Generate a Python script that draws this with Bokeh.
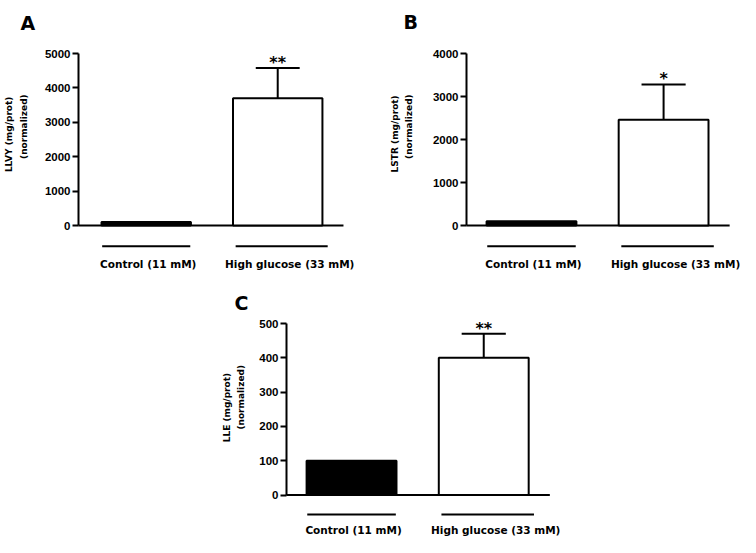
from math import pi
from bokeh.plotting import figure
from bokeh.models import ColumnDataSource, Range1d, FixedTicker, Spacer
from bokeh.layouts import column, row
from bokeh.core.properties import value
from bokeh.embed import file_html
from bokeh.resources import INLINE

# ---------------- data ----------------
categories = ["Control (11 mM)", "High glucose (33 mM)"]
bar_colors = ["black", "white"]

a_means = [100, 3700]
a_errs = [0, 875]
a_sig = ["", "**"]
a_ticks = [0, 1000, 2000, 3000, 4000, 5000]
a_ylabel = ["LLVY (mg/prot)", "(normalized)"]

b_means = [100, 2460]
b_errs = [0, 820]
b_sig = ["", "*"]
b_ticks = [0, 1000, 2000, 3000, 4000]
b_ylabel = ["LSTR (mg/prot)", "(normalized)"]

c_means = [100, 400]
c_errs = [0, 70]
c_sig = ["", "**"]
c_ticks = [0, 100, 200, 300, 400, 500]
c_ylabel = ["LLE (mg/prot)", "(normalized)"]

# ---------------- style ----------------
FONT = "DejaVu Sans"
TICK_FONT = "Liberation Sans"
BAR_W = 0.68
CAP_HALF = 0.167
UL_LEFT = [-0.335, -0.32]
UL_RIGHT = [0.335, 0.38]
LABEL_DX = [2, 12]


def panel(letter, ylabel, means, errs, sig, ticks, width, height, axis_px, top_px,
          zero_px, unit_px, axis_x, letter_px, ylab_dx, ylab_frac, ul_px, lab_px):
    ymax = ticks[-1]
    per_px = ymax / (zero_px - top_px)          # data units per pixel (y)
    x0 = axis_x - axis_px / unit_px
    x1 = axis_x + (width - axis_px) / unit_px
    y1 = ymax + top_px * per_px
    y0 = -(height - zero_px) * per_px

    p = figure(width=width, height=height,
               x_range=Range1d(x0, x1), y_range=Range1d(y0, y1),
               output_backend="svg", toolbar_location=None,
               x_axis_location=None,
               min_border_left=0, min_border_top=0,
               min_border_right=0, min_border_bottom=0)
    p.outline_line_color = None
    p.grid.visible = False
    p.background_fill_color = "white"
    p.border_fill_color = "white"

    # y axis drawn at the bars' origin
    ax = p.yaxis[0]
    ax.fixed_location = axis_x
    ax.bounds = (0, ymax)
    ax.ticker = FixedTicker(ticks=ticks)
    ax.minor_tick_line_color = None
    ax.major_tick_in = 0
    ax.major_tick_out = 6
    ax.major_tick_line_width = 2
    ax.axis_line_width = 2
    ax.major_label_standoff = 2
    ax.major_label_text_font = TICK_FONT
    ax.major_label_text_font_size = "11.5px"
    ax.major_label_text_font_style = "bold"
    ax.major_label_text_color = "black"

    # panel letter
    p.text(x=[axis_x + (letter_px[0] - axis_px) / unit_px],
           y=[ymax + (top_px - letter_px[1]) * per_px], text=[letter],
           text_align="left", text_baseline="alphabetic",
           text_font=value(FONT), text_font_size=value("19px"),
           text_font_style=value("bold"), text_color="black")

    # y axis title (two lines, rotated)
    p.text(x=[axis_x + d / unit_px for d in ylab_dx],
           y=[f * ymax for f in ylab_frac], text=ylabel, angle=pi / 2,
           text_align="center", text_baseline="middle",
           text_font=value(FONT), text_font_size=value("9px"),
           text_font_style=value("bold"), text_color="black")

    xs = [i + 0.5 for i in range(len(categories))]
    src = ColumnDataSource(dict(x=xs, top=means, color=bar_colors, cat=categories,
                                tip=[m + e - 4 * per_px for m, e in zip(means, errs)],
                                sig=sig,
                                lx=[x + d / unit_px for x, d in zip(xs, LABEL_DX)],
                                ly=[-lab_px * per_px] * len(xs),
                                ul0=[x + d for x, d in zip(xs, UL_LEFT)],
                                ul1=[x + d for x, d in zip(xs, UL_RIGHT)],
                                uly=[-ul_px * per_px] * len(xs)))

    # baseline (x axis line)
    p.segment(x0=[axis_x], x1=[2.0], y0=[0], y1=[0], line_color="black", line_width=2)

    # bars
    p.vbar(x="x", top="top", bottom=0, width=BAR_W, fill_color="color",
           line_color="black", line_width=2, source=src)

    # error bars (upper only)
    eidx = [i for i, e in enumerate(errs) if e > 0]
    esrc = ColumnDataSource(dict(x=[xs[i] for i in eidx],
                                 lo=[means[i] for i in eidx],
                                 hi=[means[i] + errs[i] for i in eidx],
                                 c0=[xs[i] - CAP_HALF for i in eidx],
                                 c1=[xs[i] + CAP_HALF for i in eidx]))
    p.segment(x0="x", x1="x", y0="lo", y1="hi", line_color="black", line_width=2, source=esrc)
    p.segment(x0="c0", x1="c1", y0="hi", y1="hi", line_color="black", line_width=2, source=esrc)

    # category underlines
    p.segment(x0="ul0", x1="ul1", y0="uly", y1="uly", line_color="black", line_width=2, source=src)

    # category labels
    p.text(x="lx", y="ly", text="cat", source=src,
           text_align="center", text_baseline="middle",
           text_font=value(FONT), text_font_size=value("10.5px"),
           text_font_style=value("bold"), text_color="black")
    # significance stars
    p.text(x="x", y="tip", text="sig", source=src,
           text_align="center", text_baseline="bottom",
           text_font=value(FONT), text_font_size=value("16px"),
           text_font_style=value("bold"), text_color="black")
    return p


pA = panel("A", a_ylabel, a_means, a_errs, a_sig, a_ticks,
           width=372, height=272, axis_px=78, top_px=53, zero_px=225,
           unit_px=131.5, axis_x=-0.015, letter_px=(20, 22),
           ylab_dx=[-69.5, -55], ylab_frac=[0.53, 0.575], ul_px=20.7, lab_px=38)
pB = panel("B", b_ylabel, b_means, b_errs, b_sig, b_ticks,
           width=368, height=272, axis_px=94, top_px=53, zero_px=225,
           unit_px=132.1, axis_x=0.008, letter_px=(31, 21),
           ylab_dx=[-72, -57.3], ylab_frac=[0.533, 0.575], ul_px=20.7, lab_px=38)
pC = panel("C", c_ylabel, c_means, c_errs, c_sig, c_ticks,
           width=372, height=265, axis_px=86, top_px=51, zero_px=222.6,
           unit_px=132.2, axis_x=0.008, letter_px=(34, 30),
           ylab_dx=[-60, -46], ylab_frac=[0.51, 0.57], ul_px=19.5, lab_px=35)

layout = column(row(pA, pB), row(Spacer(width=200, height=265), pC))

open("out.html", "w").write(file_html(layout, INLINE))
